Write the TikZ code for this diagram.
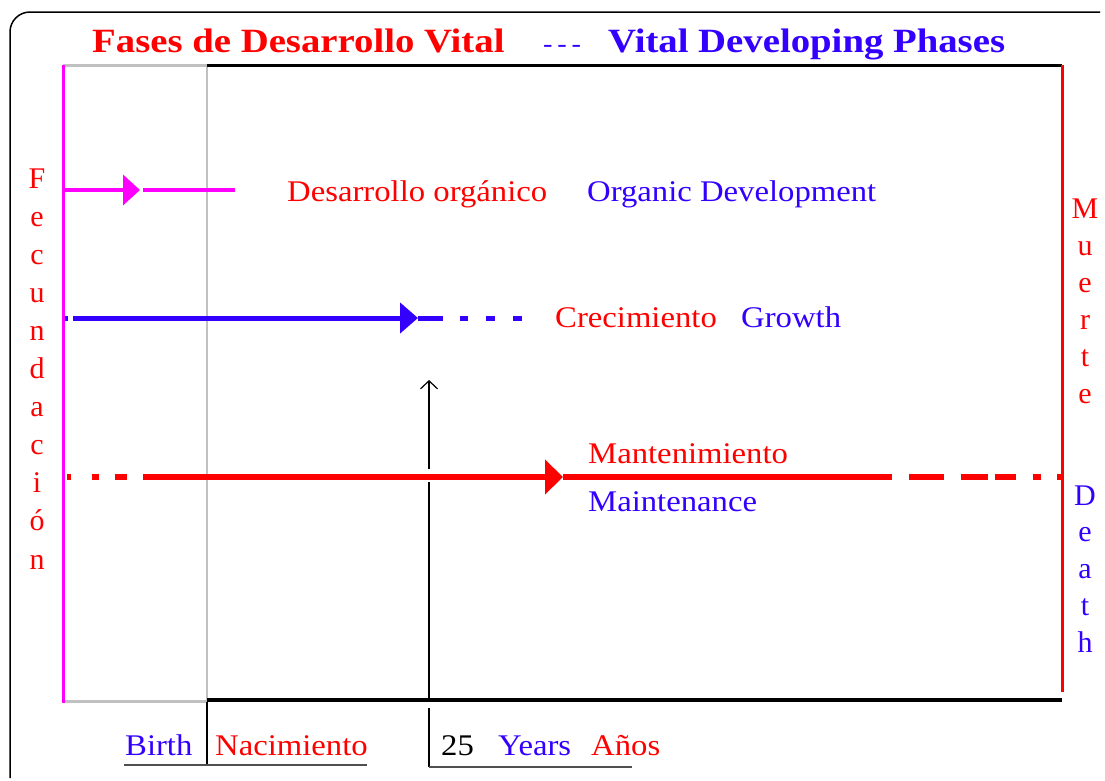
\documentclass[tikz,border=0pt]{standalone}
\usepackage{graphicx}
\usepackage{fontspec}
\setmainfont{Liberation Serif}
\usetikzlibrary{arrows.meta}
\definecolor{myred}{RGB}{255,0,0}
\definecolor{myblue}{RGB}{51,0,255}
\definecolor{mymag}{RGB}{255,0,255}
\definecolor{mygray}{RGB}{192,192,192}
\definecolor{mydark}{RGB}{80,80,80}
\newcommand\stretchtxt[1]{\scalebox{1.09}[1]{#1}}
\newcommand\stretchttl[1]{\scalebox{1.14}[1]{#1}}
\begin{document}
\begin{tikzpicture}[x=1pt,y=-1pt,
  lbl/.style={font=\fontsize{30}{36}\selectfont, inner sep=0pt, anchor=base west},
  vl/.style={font=\fontsize{30}{36}\selectfont, inner sep=0pt, anchor=base},
  ttl/.style={font=\fontsize{34}{40}\selectfont\bfseries, inner sep=0pt, anchor=base west},
  magline/.style={mymag, line width=4pt},
  blueline/.style={myblue, line width=5pt},
  redline/.style={myred, line width=5.5pt},
  thin/.style={line width=1.2pt},
  tipM/.style={-{Triangle[length=17pt,width=30pt]}},
  tipB/.style={-{Triangle[length=18pt,width=30pt]}},
  tipR/.style={-{Triangle[length=18pt,width=34pt]}},
]
\useasboundingbox (0,0) rectangle (1105,780);
\fill[white] (0,0) rectangle (1105,780);

% outer frame
\coordinate (fBL) at (10,778);
\coordinate (fTR) at (1100,12);
\draw[line width=1.5pt, rounded corners=20pt] (fBL) |- (fTR);

% title
\node[ttl, text=myred] (t1) at (92,52) {\stretchttl{Fases de Desarrollo Vital}};
\node[lbl, text=myblue, font=\fontsize{26}{30}\selectfont] (t2) at (543,52) {\stretchtxt{{-}\,{-}\,{-}}};
\node[ttl, text=myblue] (t3) at (608,52) {\stretchttl{Vital Developing Phases}};

% frame coordinates
\coordinate (mTop) at (63,65);
\coordinate (mBot) at (63,703);
\coordinate (gTop) at (207,65);
\coordinate (gBot) at (207,700);
\coordinate (rTop) at (1062,65);
\coordinate (rBot) at (1062,692);
\coordinate (bR) at (1062,700);
\coordinate (gbL) at (63,701);
\coordinate (gbR) at (207,701);

% gray parts
\draw[mygray, line width=2.5pt] (gTop) -- (gBot);
\draw[mygray, line width=3pt] (mTop) -- (gTop);
\draw[mygray, line width=3pt] (gbL) -- (gbR);
% black top & bottom
\draw[black, line width=3pt] (gTop) -- (rTop);
\draw[black, line width=4.5pt] (gBot) -- (bR);
% magenta and red verticals
\draw[mymag, line width=3pt] (mTop) -- (mBot);
\draw[myred, line width=3pt] (rTop) -- (rBot);

% magenta arrow
\coordinate (m0) at (63,190);
\coordinate (m1) at (140,190);
\coordinate (m2) at (143,190);
\coordinate (m3) at (235,190);
\draw[magline, tipM] (m0) -- (m1);
\draw[magline] (m2) -- (m3);

% blue arrow
\coordinate (b0) at (73,318);
\coordinate (b1) at (418,318);
\coordinate (b2) at (443,318);
\draw[blueline] (65,318) -- (68,318);
\draw[blueline, tipB] (b0) -- (b1);
\draw[blueline] (b1) -- (b2);
\draw[blueline] (460,318) -- (468,318);
\draw[blueline] (486,318) -- (495,318);
\draw[blueline] (513,318) -- (522,318);

% red arrow
\coordinate (r0) at (143,477);
\coordinate (r1) at (563,477);
\coordinate (r2) at (892,477);
\draw[redline] (67,477) -- (71,477);
\draw[redline] (92,477) -- (99,477);
\draw[redline] (115,477) -- (127,477);
\draw[redline, tipR] (r0) -- (r1);
\draw[redline] (r1) -- (r2);
\draw[redline] (909,477) -- (944,477);
\draw[redline] (961,477) -- (988,477);
\draw[redline] (995,477) -- (1016,477);
\draw[redline] (1033,477) -- (1041,477);
\draw[redline] (1057,477) -- (1062,477);

% black 25-years arrow
\coordinate (y0) at (429,469);
\coordinate (y1) at (429,380);
\coordinate (y2) at (429,482);
\coordinate (y3) at (429,698);
\coordinate (y4) at (429,708);
\coordinate (y5) at (429,767);
\coordinate (y6) at (632,767);
\draw[thin, -{Straight Barb[length=8pt,width=17pt]}] (y0) -- (y1);
\draw[thin] (y2) -- (y3);
\draw[thin] (y4) -- (y5);
\draw[thin, mydark] (y5) -- (y6);

% birth tick
\coordinate (n0) at (207,702);
\coordinate (n1) at (207,765);
\coordinate (u0) at (124,765);
\coordinate (u1) at (367,765);
\draw[thin] (n0) -- (n1);
\draw[thin, mydark] (u0) -- (u1);

% labels
\node[lbl, text=myred] (dor) at (287,201) {\stretchtxt{Desarrollo orgánico}};
\node[lbl, text=myblue] (ord) at (587,201) {\stretchtxt{Organic Development}};
\node[lbl, text=myred] (cre) at (555,327) {\stretchtxt{Crecimiento}};
\node[lbl, text=myblue] (gro) at (741,327) {\stretchtxt{Growth}};
\node[lbl, text=myred] (man) at (588,463) {\stretchtxt{Mantenimiento}};
\node[lbl, text=myblue] (mai) at (588,511) {\stretchtxt{Maintenance}};
\node[lbl, text=myblue] (bir) at (125,755) {\stretchtxt{Birth}};
\node[lbl, text=myred] (nac) at (215,755) {\stretchtxt{Nacimiento}};
\node[lbl, text=black] (n25) at (441,755) {\stretchtxt{25}};
\node[lbl, text=myblue] (yea) at (498,755) {\stretchtxt{Years}};
\node[lbl, text=myred] (ano) at (591,755) {\stretchtxt{Años}};

% vertical words
\foreach \ch [count=\i from 0] in {F,e,c,u,n,d,a,c,i,ó,n}
  \node[vl, text=myred] (fec\i) at (37,188+38.1*\i) {\ch};
\foreach \ch [count=\i from 0] in {M,u,e,r,t,e}
  \node[vl, text=myred] (mue\i) at (1085,218+37*\i) {\ch};
\foreach \ch [count=\i from 0] in {D,e,a,t,h}
  \node[vl, text=myblue] (dea\i) at (1085,505+36.8*\i) {\ch};
\end{tikzpicture}
\end{document}
